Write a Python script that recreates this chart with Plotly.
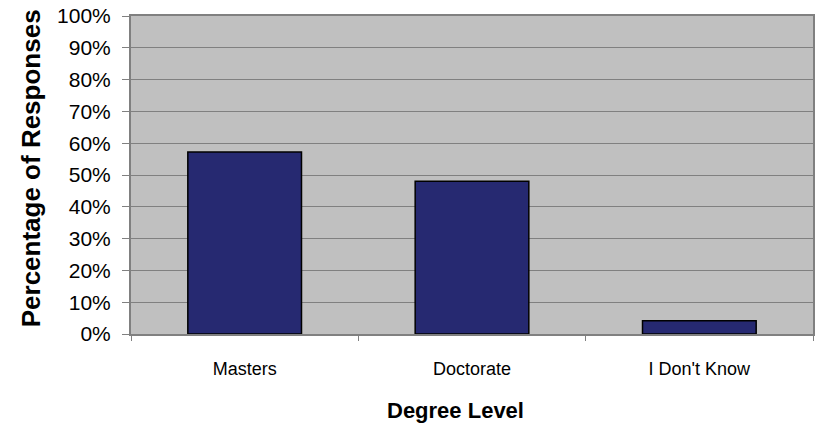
import plotly.graph_objects as go

categories = ["Masters", "Doctorate", "I Don't Know"]
values = [0.572, 0.480, 0.042]
y_tick_vals = [i / 10 for i in range(11)]
y_tick_text = [f"{i*10}%" for i in range(11)]

W, H = 817, 431
L, R, T, B = 131, 2, 16, 97
pw, ph = W - L - R, H - T - B

fig = go.Figure(go.Bar(
    x=categories, y=values, width=0.5,
    marker=dict(color="#262971", line=dict(color="#000000", width=1.5)),
))

fig.update_layout(
    width=W, height=H,
    margin=dict(l=L, r=R, t=T, b=B, pad=0),
    plot_bgcolor="#C0C0C0", paper_bgcolor="#FFFFFF",
    showlegend=False,
    font=dict(family="Liberation Sans, Arial, sans-serif", color="#000000"),
    bargap=0.5,
)

fig.update_xaxes(
    showline=True, linecolor="#808080", linewidth=2, mirror=True,
    showgrid=False, ticks="outside", tickson="boundaries", ticklen=5, tickcolor="#808080",
    tickfont=dict(family="Liberation Sans Narrow, Arial Narrow, Liberation Sans, sans-serif", size=18),
    ticklabelstandoff=17,
)
fig.update_yaxes(
    range=[0, 1], tickvals=y_tick_vals, ticktext=y_tick_text,
    showline=True, linecolor="#808080", linewidth=2, mirror=True,
    showgrid=True, gridcolor="#808080", gridwidth=1,
    ticks="outside", ticklen=7, tickcolor="#808080",
    tickfont=dict(size=21), ticklabelstandoff=7, zeroline=False,
)

fig.add_annotation(
    text="<b>Percentage of Responses</b>", textangle=-90,
    xref="paper", yref="paper", x=(31 - L) / pw, y=(334 - 168) / ph,
    xanchor="center", yanchor="middle", showarrow=False,
    font=dict(size=26, family="Liberation Sans, Arial, sans-serif"),
)
fig.add_annotation(
    text="<b>Degree Level</b>",
    xref="paper", yref="paper", x=(456 - L) / pw, y=(334 - 410) / ph,
    xanchor="center", yanchor="middle", showarrow=False,
    font=dict(size=22, family="Liberation Sans, Arial, sans-serif"),
)

fig.write_html("out.html")
